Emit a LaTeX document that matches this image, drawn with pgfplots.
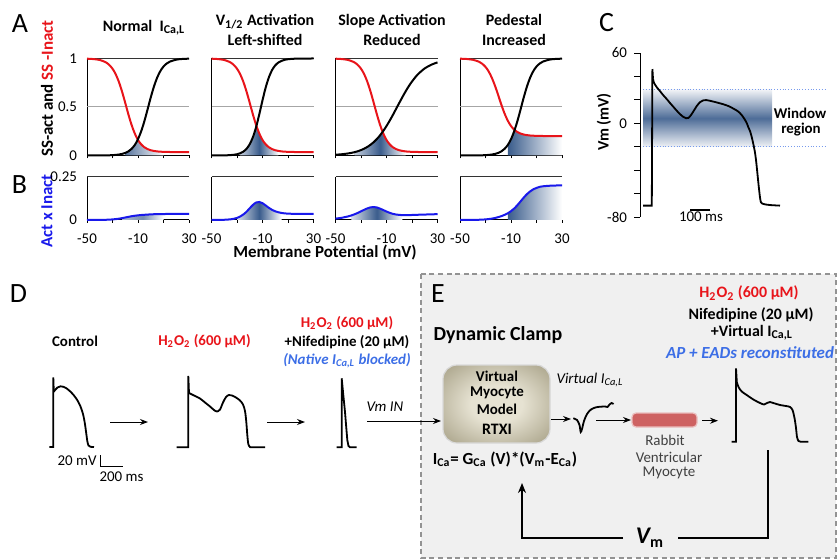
\documentclass[border=0pt]{standalone}
\usepackage{fontspec}
\setmainfont{Carlito}
\usepackage{pgfplots}
\usepackage{pgfplotstable}
\pgfplotsset{compat=1.18}
\usetikzlibrary{arrows.meta}

\definecolor{shadeblue}{RGB}{58,92,140}
\definecolor{cred}{RGB}{232,20,26}
\definecolor{cblue}{RGB}{25,25,235}
\definecolor{tblue}{RGB}{60,110,230}
\definecolor{boxgray}{RGB}{240,240,240}
\definecolor{boxin}{RGB}{230,226,210}
\definecolor{boxout}{RGB}{150,143,114}
\pgfdeclareradialshading{boxsh}{\pgfpoint{0bp}{0bp}}{color(0bp)=(boxin); color(12bp)=(boxin);
  color(42bp)=(boxout); color(70bp)=(boxout)}
\newcommand\sub[1]{\textsubscript{#1}}
\newcommand\fs[1]{\fontsize{#1}{#1}\selectfont}

% V, SS-act (d), SS-inact (f), product (b)
\pgfplotstableread{
V d f b
-50 0.0001 0.998 0.0000
-45 0.0002 0.994 0.0002
-40 0.0005 0.985 0.0005
-37.5 0.0008 0.974 0.0008
-35 0.0014 0.959 0.0013
-32.5 0.0022 0.933 0.0021
-30 0.0037 0.895 0.0033
-27.5 0.0061 0.838 0.0051
-25 0.0100 0.759 0.0076
-22.5 0.0163 0.658 0.0107
-20 0.0266 0.542 0.0144
-17.5 0.0431 0.422 0.0182
-15 0.0691 0.314 0.0217
-12.5 0.109 0.226 0.0246
-10 0.168 0.160 0.0269
-7.5 0.250 0.115 0.0288
-5 0.354 0.085 0.0301
-2.5 0.475 0.066 0.0314
0 0.599 0.054 0.0323
2.5 0.711 0.047 0.0334
5 0.802 0.042 0.0337
7.5 0.870 0.039 0.0339
10 0.917 0.038 0.0345
12.5 0.948 0.037 0.0347
15 0.968 0.036 0.0348
20 0.988 0.035 0.0348
25 0.9955 0.035 0.0348
30 0.998 0.035 0.0349
}\tA
\pgfplotstableread{
V d f b
-50 0.0001 0.998 0.0001
-45 0.0004 0.994 0.0004
-40 0.0013 0.985 0.0013
-37.5 0.0024 0.974 0.0023
-35 0.0042 0.959 0.0040
-32.5 0.0074 0.933 0.0070
-30 0.0131 0.895 0.0120
-27.5 0.0230 0.838 0.0200
-25 0.0403 0.759 0.0320
-22.5 0.0691 0.658 0.0480
-20 0.117 0.542 0.0680
-17.5 0.190 0.422 0.0870
-15 0.294 0.314 0.1010
-12.5 0.426 0.226 0.1040
-10 0.569 0.160 0.0970
-7.5 0.701 0.115 0.0840
-5 0.806 0.085 0.0700
-2.5 0.881 0.066 0.0585
0 0.929 0.054 0.0500
2.5 0.959 0.047 0.0445
5 0.976 0.042 0.0405
7.5 0.987 0.039 0.0380
10 0.9924 0.038 0.0368
12.5 0.9957 0.037 0.0360
15 0.9976 0.036 0.0355
20 0.9992 0.035 0.0350
25 0.9998 0.035 0.0350
30 1.0 0.035 0.0350
}\tB
\pgfplotstableread{
V d f b
-50 0.0079 0.998 0.0079
-45 0.0130 0.994 0.0129
-40 0.0213 0.985 0.0210
-37.5 0.0271 0.974 0.0264
-35 0.0346 0.959 0.0332
-32.5 0.0439 0.933 0.0410
-30 0.0557 0.895 0.0499
-27.5 0.0704 0.838 0.0590
-25 0.0887 0.759 0.0673
-22.5 0.111 0.658 0.0730
-20 0.138 0.542 0.0748
-17.5 0.171 0.422 0.0722
-15 0.209 0.314 0.0656
-12.5 0.254 0.226 0.0574
-10 0.304 0.160 0.0486
-7.5 0.359 0.115 0.0413
-5 0.418 0.085 0.0355
-2.5 0.480 0.066 0.0317
0 0.542 0.054 0.0293
2.5 0.603 0.047 0.0283
5 0.661 0.042 0.0278
7.5 0.715 0.039 0.0279
10 0.763 0.038 0.0290
12.5 0.805 0.037 0.0298
15 0.842 0.036 0.0303
20 0.898 0.035 0.0314
25 0.935 0.035 0.0327
30 0.960 0.035 0.0336
}\tC
\pgfplotstableread{
V d f b
-50 0.0001 0.998 0.0001
-45 0.0002 0.995 0.0002
-40 0.0005 0.987 0.0005
-37.5 0.0008 0.978 0.0008
-35 0.0014 0.966 0.0014
-32.5 0.0022 0.945 0.0021
-30 0.0037 0.913 0.0034
-27.5 0.0061 0.866 0.0053
-25 0.0100 0.800 0.0080
-22.5 0.0163 0.717 0.0117
-20 0.0266 0.620 0.0165
-17.5 0.0431 0.521 0.0225
-15 0.0691 0.431 0.0298
-12.5 0.109 0.358 0.0390
-10 0.168 0.304 0.0511
-7.5 0.250 0.266 0.0665
-5 0.354 0.242 0.0857
-2.5 0.475 0.226 0.1074
0 0.599 0.216 0.1294
2.5 0.711 0.210 0.1493
5 0.802 0.206 0.1652
7.5 0.870 0.204 0.1775
10 0.917 0.202 0.1852
12.5 0.948 0.202 0.1915
15 0.968 0.201 0.1946
20 0.988 0.200 0.1976
25 0.9955 0.200 0.1991
30 0.998 0.200 0.1996
}\tD

\pgfplotsset{
  mini/.style={
    scale only axis, anchor=south west, width=51bp,
    xmin=-50, xmax=30, clip=false,
    axis x line*=bottom, axis y line*=left,
    axis line style={-, line width=0.5bp},
    xtick={-50,-30,-10,10,30}, xticklabels={},
    tick align=outside, major tick length=1.5bp,
    tick style={line width=0.4bp, black},
    ytick style={draw=none},
    ticklabel style={font=\fs{7.5}},
    /pgf/number format/assume math mode=true,
  },
  arow/.style={mini, height=48.5bp, ymin=0, ymax=1, ytick={0,0.5,1}, yticklabels={}},
  brow/.style={mini, height=21.65bp, ymin=0, ymax=0.25, ytick={0,0.25}, yticklabels={},
    xticklabels={-50,,-10,,30}, xticklabel style={yshift=-2bp}},
  curve/.style={line width=1bp, smooth},
}

\begin{document}
\begin{tikzpicture}
% ---------- canvas in pixel units (y down) ----------
\begin{axis}[at={(0,0)}, anchor=south west, scale only axis,
  width=418.5bp, height=279.5bp, xmin=0, xmax=837, ymin=0, ymax=559,
  y dir=reverse, hide axis, clip=false]
% panel letters
\node[font=\fs{14}] at (20,24) {A};
\node[font=\fs{14}] at (19.5,185) {B};
\node[font=\fs{14}] at (606.5,23) {C};
\node[font=\fs{14}] at (18.5,294) {D};
% titles A
\node[font=\bfseries\fs{8}] at (144,28) {Normal\ \ I\sub{Ca,L}};
\node[font=\bfseries\fontsize{8}{10}\selectfont, align=center] at (265,30) {V\sub{1/2} Activation\\Left-shifted};
\node[font=\bfseries\fontsize{8}{10}\selectfont, align=center] at (392,30) {Slope Activation\\Reduced};
\node[font=\bfseries\fontsize{8}{10}\selectfont, align=center] at (514,30) {Pedestal\\Increased};
\node[rotate=90, font=\bfseries\fs{8.5}] at (47,88.5) {SS-act and \textcolor{cred}{SS -Inact}};
\node[rotate=90, font=\bfseries\fs{8.5}, cblue] at (47,211) {Act x Inact};
\node[font=\bfseries\fs{8.5}] at (325,252) {Membrane Potential (mV)};
% panel C texts
\node[rotate=90, font=\bfseries\fs{8}] at (604,122) {Vm (mV)};
\node[font=\bfseries\fs{7.5}] at (800,113) {Window};
\node[font=\bfseries\fs{7.5}] at (801,130) {region};
\node[font=\fs{7.5}] at (701,217) {100 ms};

% ---------- panel E background ----------
\draw[dashed, gray!85, fill=boxgray, line width=0.6bp, dash pattern=on 2.5bp off 1.8bp] (421,274) rectangle (836,558);
\node[font=\fs{14}] at (438,294) {E};

% ---------- panel D ----------
\node[font=\bfseries\fs{7.5}] at (75,341) {Control};
\node[font=\bfseries\fs{7.5}, cred] at (204.5,341) {H\sub{2}O\sub{2} (600 μM)};
\node[font=\bfseries\fs{7.5}, cred] at (347,323) {H\sub{2}O\sub{2} (600 μM)};
\node[font=\bfseries\fs{7.5}] at (347,342) {+Nifedipine (20 μM)};
\node[font=\bfseries\itshape\fs{7.5}, tblue] at (347,361) {(Native I\sub{Ca,L} blocked)};
\node[font=\itshape\fs{7.5}] at (385,407) {Vm IN};
\node[font=\fs{7.5}] at (77,461) {20 mV};
\node[font=\fs{7.5}] at (121.5,477) {200 ms};
\draw[line width=0.5bp] (100,455) -- (100,466) -- (123,466);

% control AP
\addplot[black, line width=0.9bp] coordinates {(49.3,447) (53.3,447) (53.3,377.5) (53.8,392)};
\addplot[black, line width=0.9bp, smooth] coordinates {(53.8,392) (55,390) (57.5,387.5) (60.5,386.3)
  (63.5,386.8) (67,388.7) (70.5,391.7) (74,395.5) (77.5,400.5) (80.5,406.5) (83,414) (84.8,423)
  (86.2,433) (87.3,441) (88.5,445.5) (90.5,446.8) (94,447)};
% H2O2 AP
\addplot[black, line width=0.9bp] coordinates {(176.7,447.3) (188.3,447.3) (188.3,376) (189,393)};
\addplot[black, line width=0.9bp, smooth] coordinates {(189,393) (194,395.5) (200,398.5) (205,402.5)
  (210,406.5) (214,410) (217,411.5) (220,409.5) (223,402.5) (226,397) (229,395) (232,395.5)
  (236,397.5) (240,400.5) (243,404.5) (245,411) (246.3,422) (247.3,435) (248.3,444) (250,447)
  (252,447.3) (265,447.3)};
% nifedipine AP
\addplot[black, line width=0.9bp] coordinates {(336.7,447.3) (341.7,447.3) (341.7,378.3) (343.3,395)
  (345,412) (346.3,428) (347.3,440) (348.5,446) (350,447.3) (356.7,447.3)};
\draw[line width=0.5bp, -{Stealth[length=4bp,width=3bp]}] (110,422) -- (148,422);
\draw[line width=0.5bp, -{Stealth[length=4bp,width=3bp]}] (267,422) -- (305,422);
\draw[line width=0.5bp, -{Stealth[length=4bp,width=3bp]}] (367,421) -- (441,421);

% ---------- panel E ----------
\node[font=\bfseries\fs{10}] at (498,335) {Dynamic Clamp};
\draw[draw=gray!30, line width=0.6bp, rounded corners=7bp, shading=boxsh]
  (443,365) rectangle (550,443);
\node[font=\bfseries\fs{7.5}] at (497,376) {Virtual};
\node[font=\bfseries\fs{7.5}] at (497,393) {Myocyte};
\node[font=\bfseries\fs{7.5}] at (497,409.5) {Model};
\node[font=\bfseries\fs{8}] at (497,429) {RTXI};
\node[font=\bfseries\fs{8.5}] at (505,459) {I\sub{Ca}= G\sub{Ca} (V)*(V\sub{m}-E\sub{Ca})};
\node[font=\itshape\fs{7.5}] at (590,380) {Virtual I\sub{Ca,L}};
\draw[line width=0.5bp, -{Stealth[length=4bp,width=3bp]}] (551,419) -- (571,419);
\addplot[black, line width=0.9bp, smooth, tension=0.5] coordinates {(573.3,418.3) (577,420) (579.5,425)
  (580.7,432) (582,429) (584,421) (587,414) (591,409.5) (596,407.3) (601,406.7) (605,406.5)
  (607.5,407) (609.5,404.5) (611.5,403) (613.5,404)};
\draw[line width=0.5bp, -{Stealth[length=4bp,width=3bp]}] (596,420) -- (631,420);
\draw[draw={rgb,255:red,235;green,190;blue,190}, line width=0.6bp, rounded corners=2bp,
  fill={rgb,255:red,206;green,98;blue,98}] (632,413) rectangle (697,427);
\node[font=\fs{7.5}, black!75] at (665,440) {Rabbit};
\node[font=\fs{7.5}, black!75] at (669,457) {Ventricular};
\node[font=\fs{7.5}, black!75] at (669,473) {Myocyte};
\draw[line width=0.5bp, -{Stealth[length=4bp,width=3bp]}] (702,420.7) -- (718,420.7);
\node[font=\bfseries\fs{8}, cred] at (749,293) {H\sub{2}O\sub{2} (600 μM)};
\node[font=\bfseries\fs{8}] at (751,315) {Nifedipine (20 μM)};
\node[font=\bfseries\fs{8}] at (752,333) {+Virtual I\sub{Ca,L}};
\node[font=\bfseries\itshape\fs{8.5}, tblue] at (750,353) {AP + EADs reconstituted};
% reconstituted AP
\addplot[black, line width=0.9bp] coordinates {(731.7,441.7) (736,441.7) (736,368.3) (736.8,382)};
\addplot[black, line width=0.9bp, smooth] coordinates {(736.8,382) (738.5,387) (741.7,391.5) (746.7,395)
  (753.3,399.5) (760,403) (764,404.5) (767,403) (770,402) (773.3,403) (780,405) (786,406) (790,407)
  (792.5,410) (794.5,418) (796,428) (797,437) (798.5,441) (800.5,441.7) (808.3,441.7)};
% feedback loop
\draw[line width=0.9bp] (768,450) -- (768,538) -- (678,538);
\draw[line width=0.9bp, -{Stealth[length=5bp,width=4bp]}] (623,538) -- (522,538) -- (522,483);
\node[font=\bfseries\fs{12}] at (650,538) {\itshape V\sub{\upshape m}};
\end{axis}

% ---------- panel A ----------
\begin{axis}[arow, at={(43.5bp,201.75bp)}, yticklabels={0,0.5,1}]
\addplot[draw=none, left color=shadeblue!85, right color=white] coordinates {(-20,0.0266) (-17.5,0.0431)
  (-15,0.0691) (-12.5,0.109) (-10.2,0.163) (-7.5,0.115) (-5,0.085) (-2.5,0.066) (0,0.054)
  (2.5,0.047) (5,0.042) (7.5,0.039) (10,0.038)} \closedcycle;
\draw[gray!70, line width=0.5bp] (axis cs:-50,0.5) -- (axis cs:30,0.5);
\draw[black!80, line width=0.6bp] (axis cs:-50,1) -- (axis cs:30,1);
\addplot[cred, curve] table[x=V,y=f] {\tA};
\addplot[black, curve] table[x=V,y=d] {\tA};
\end{axis}
\begin{axis}[arow, at={(105.75bp,201.75bp)}]
\addplot[draw=none, left color=shadeblue!30, right color=white, middle color=shadeblue] coordinates {
  (-27.5,0.023) (-25,0.0403) (-22.5,0.0691) (-20,0.117) (-17.5,0.190) (-14.8,0.305) (-12.5,0.226)
  (-10,0.160) (-7.5,0.115) (-5,0.085) (-2.5,0.066) (0,0.054) (2.5,0.047)} \closedcycle;
\draw[gray!70, line width=0.5bp] (axis cs:-50,0.5) -- (axis cs:30,0.5);
\draw[black!80, line width=0.6bp] (axis cs:-50,1) -- (axis cs:30,1);
\addplot[cred, curve] table[x=V,y=f] {\tB};
\addplot[black, curve] table[x=V,y=d] {\tB};
\end{axis}
\begin{axis}[arow, at={(167.75bp,201.75bp)}]
\addplot[draw=none, left color=shadeblue!30, right color=white, middle color=shadeblue] coordinates {
  (-35,0.0346) (-32.5,0.0439) (-30,0.0557) (-27.5,0.0704) (-25,0.0887) (-22.5,0.111) (-20,0.138)
  (-17.5,0.171) (-15,0.209) (-13,0.243) (-10,0.160) (-7.5,0.115) (-5,0.085) (-2.5,0.066) (0,0.054)
  (2.5,0.047) (5,0.042)} \closedcycle;
\draw[gray!70, line width=0.5bp] (axis cs:-50,0.5) -- (axis cs:30,0.5);
\draw[black!80, line width=0.6bp] (axis cs:-50,1) -- (axis cs:30,1);
\addplot[cred, curve] table[x=V,y=f] {\tC};
\addplot[black, curve] table[x=V,y=d] {\tC};
\end{axis}
\begin{axis}[arow, at={(230bp,201.75bp)}]
\addplot[draw=none, left color=shadeblue, right color=white] coordinates {(-12.5,0.109) (-10,0.168)
  (-7.5,0.250) (-7.1,0.262) (-5,0.242) (-2.5,0.226) (0,0.216) (2.5,0.210) (5,0.206) (7.5,0.204)
  (10,0.202) (15,0.201) (20,0.2) (25,0.2) (30,0.2)} \closedcycle;
\draw[gray!70, line width=0.5bp] (axis cs:-50,0.5) -- (axis cs:30,0.5);
\draw[black!80, line width=0.6bp] (axis cs:-50,1) -- (axis cs:30,1);
\addplot[cred, curve] table[x=V,y=f] {\tD};
\addplot[black, curve] table[x=V,y=d] {\tD};
\end{axis}

% ---------- panel B ----------
\begin{axis}[brow, at={(43.5bp,169.5bp)}, yticklabels={0,0.25}]
\addplot[draw=none, left color=shadeblue!40, right color=white, middle color=shadeblue!70, smooth] coordinates {
  (-22.5,0.0107) (-20,0.0144) (-17.5,0.0182) (-15,0.0217) (-12.5,0.0246) (-10,0.0269) (-7.5,0.0288)
  (-5,0.0301) (-2.5,0.0314) (0,0.0323) (2.5,0.0334) (5,0.0337) (7.5,0.0339) (10,0.0345)} \closedcycle;
\draw[black!80, line width=0.6bp] (axis cs:-50,0.25) -- (axis cs:30,0.25);
\addplot[cblue, curve] table[x=V,y=b] {\tA};
\end{axis}
\begin{axis}[brow, at={(105.75bp,169.5bp)}]
\addplot[draw=none, left color=shadeblue!20, right color=white, middle color=shadeblue, smooth] coordinates {
  (-30,0.0120) (-27.5,0.0200) (-25,0.0320) (-22.5,0.0480) (-20,0.0680) (-17.5,0.0870) (-15,0.1010)
  (-12.5,0.1040) (-10,0.0970) (-7.5,0.0840) (-5,0.0700) (-2.5,0.0585) (0,0.0500) (2.5,0.0445)
  (5,0.0405)} \closedcycle;
\draw[black!80, line width=0.6bp] (axis cs:-50,0.25) -- (axis cs:30,0.25);
\addplot[cblue, curve] table[x=V,y=b] {\tB};
\end{axis}
\begin{axis}[brow, at={(167.75bp,169.5bp)}]
\addplot[draw=none, left color=shadeblue!20, right color=white, middle color=shadeblue, smooth] coordinates {
  (-37.5,0.0264) (-35,0.0332) (-32.5,0.0410) (-30,0.0499) (-27.5,0.0590) (-25,0.0673) (-22.5,0.0730)
  (-20,0.0748) (-17.5,0.0722) (-15,0.0656) (-12.5,0.0574) (-10,0.0486) (-7.5,0.0413) (-5,0.0355)
  (-2.5,0.0317) (0,0.0293) (2.5,0.0283)} \closedcycle;
\draw[black!80, line width=0.6bp] (axis cs:-50,0.25) -- (axis cs:30,0.25);
\addplot[cblue, curve] table[x=V,y=b] {\tC};
\end{axis}
\begin{axis}[brow, at={(230bp,169.5bp)}]
\addplot[draw=none, left color=shadeblue, right color=white, smooth] coordinates {
  (-12.5,0.0390) (-10,0.0511) (-7.5,0.0665) (-5,0.0857) (-2.5,0.1074) (0,0.1294) (2.5,0.1493)
  (5,0.1652) (7.5,0.1775) (10,0.1852) (12.5,0.1915) (15,0.1946) (20,0.1976) (25,0.1991)
  (30,0.1996)} \closedcycle;
\draw[black!80, line width=0.6bp] (axis cs:-50,0.25) -- (axis cs:30,0.25);
\addplot[cblue, curve] table[x=V,y=b] {\tD};
\end{axis}

% ---------- panel C ----------
\begin{axis}[at={(320bp,171bp)}, anchor=south west, scale only axis, width=95bp, height=82bp,
  xmin=-15, xmax=935, ymin=-80, ymax=60, clip=false,
  hide x axis, axis y line*=left, axis line style={-, line width=0.5bp},
  ytick={-80,-60,...,60}, yticklabels={-80,,,,0,,,60},
  tick align=outside, major tick length=3bp, tick style={line width=0.4bp, black},
  ticklabel style={font=\fs{7.5}}]
\fill[top color=shadeblue!8, bottom color=shadeblue!8, middle color=shadeblue!90]
  (axis cs:0,-20) rectangle (axis cs:645,28.5);
\draw[densely dotted, tblue!70, line width=0.4bp] (axis cs:0,28.5) -- (axis cs:910,28.5);
\draw[densely dotted, tblue!70, line width=0.4bp] (axis cs:0,-20) -- (axis cs:910,-20);
\addplot[black, line width=0.9bp] coordinates {(0,-70.3) (44,-70.3) (47,46.3) (50,38)};
\addplot[black, line width=0.9bp, smooth] coordinates {(50,38) (55,34.5) (70,30.5) (85,27.5)
  (100,24.2) (118,20.8) (135,17.3) (152,14) (170,10.5) (185,7.8) (200,5.6) (215,4.3) (227,4.6)
  (240,7) (255,11) (270,15) (285,18) (300,19.5) (315,19.8) (335,19.2) (352,18.5) (375,17.5)
  (402,16.2) (430,14.5) (452,12.5) (475,10.2) (493,7.1) (508,3.5) (518,0.5) (527,-3.5) (535,-6.5)
  (544,-12) (552,-18) (559,-24) (565,-31.3) (571,-41) (577,-51.2) (582,-59) (586,-64.5)
  (590,-67.5) (597,-68.6) (610,-69.2) (635,-69.8) (685,-70.3)};
\draw[line width=0.75bp] (axis cs:235,-74) -- (axis cs:335,-74);
\end{axis}

\pgfresetboundingbox
\path (0,0) rectangle (418.5bp,279.5bp);
\end{tikzpicture}
\end{document}
